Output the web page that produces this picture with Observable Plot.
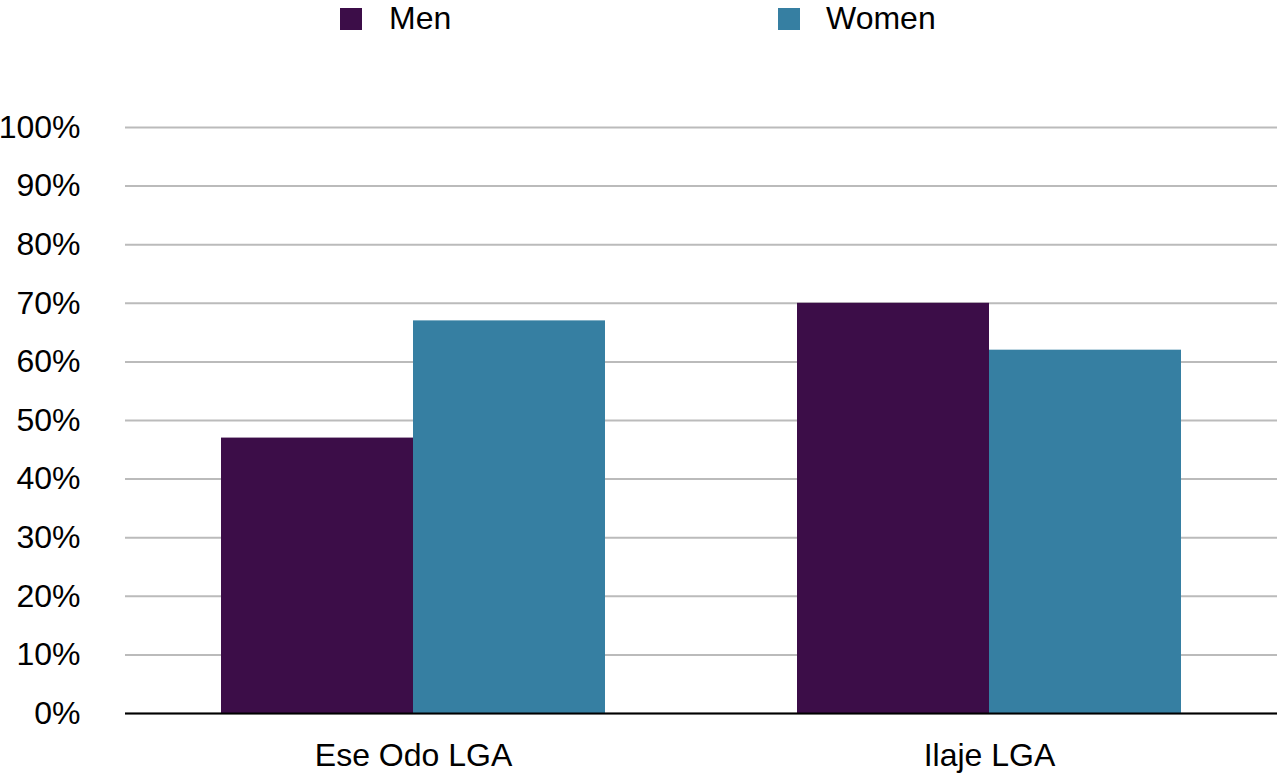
<!DOCTYPE html>
<html>
<head>
<meta charset="utf-8">
<script src="https://cdn.jsdelivr.net/npm/d3@7"></script>
<script src="https://cdn.jsdelivr.net/npm/@observablehq/plot@0.6"></script>
<style>
  html, body { margin: 0; padding: 0; background: #fff; }
  body { width: 1277px; height: 773px; overflow: hidden; font-family: "Liberation Sans", Arial, sans-serif; }
  #legend { position: relative; height: 50px; width: 1277px; }
  .sw { position: absolute; top: 8px; width: 22px; height: 22px; }
  .lb { position: absolute; top: 0px; font-size: 32px; line-height: 36px; color: #000; }
</style>
</head>
<body>
<div id="legend"></div>
<div id="chart"></div>
<script>
const categories = ["Ese Odo LGA", "Ilaje LGA"];
const seriesNames = ["Men", "Women"];
const menValues = [47, 70];
const womenValues = [67, 62];
const seriesColors = ["#3c0d48", "#367fa2"];
const yTicks = [0, 10, 20, 30, 40, 50, 60, 70, 80, 90, 100];

const data = [];
categories.forEach((c, i) => {
  data.push({category: c, series: "Men", value: menValues[i]});
  data.push({category: c, series: "Women", value: womenValues[i]});
});

// legend
const legend = document.getElementById("legend");
const legendPos = [{sw: 340, lb: 389}, {sw: 778, lb: 826}];
seriesNames.forEach((s, i) => {
  const sw = document.createElement("div");
  sw.className = "sw";
  sw.style.left = legendPos[i].sw + "px";
  sw.style.background = seriesColors[i];
  legend.appendChild(sw);
  const lb = document.createElement("div");
  lb.className = "lb";
  lb.style.left = legendPos[i].lb + "px";
  lb.textContent = s;
  legend.appendChild(lb);
});

const chart = Plot.plot({
  width: 1277,
  height: 723,
  marginLeft: 125,
  marginRight: 0,
  marginTop: 77,
  marginBottom: 60,
  style: {fontFamily: "Liberation Sans, Arial, sans-serif", fontSize: "32px", color: "#000", background: "#fff"},
  fx: {domain: categories, padding: 0, label: null, axis: "bottom", tickSize: 0, tickPadding: 30},
  x: {domain: seriesNames, paddingInner: 0, paddingOuter: 0.5, axis: null},
  y: {domain: [0, 100], ticks: yTicks, tickFormat: d => d + "%", label: null, tickSize: 0, tickPadding: 45},
  color: {domain: seriesNames, range: seriesColors},
  marks: [
    Plot.gridY(yTicks, {stroke: "#bbbbbb", strokeOpacity: 1, strokeWidth: 2}),
    Plot.barY(data, {fx: "category", x: "series", y: "value", fill: "series"}),
    Plot.ruleY([0], {stroke: "#000", strokeWidth: 2})
  ]
});
document.getElementById("chart").appendChild(chart);
</script>
</body>
</html>
